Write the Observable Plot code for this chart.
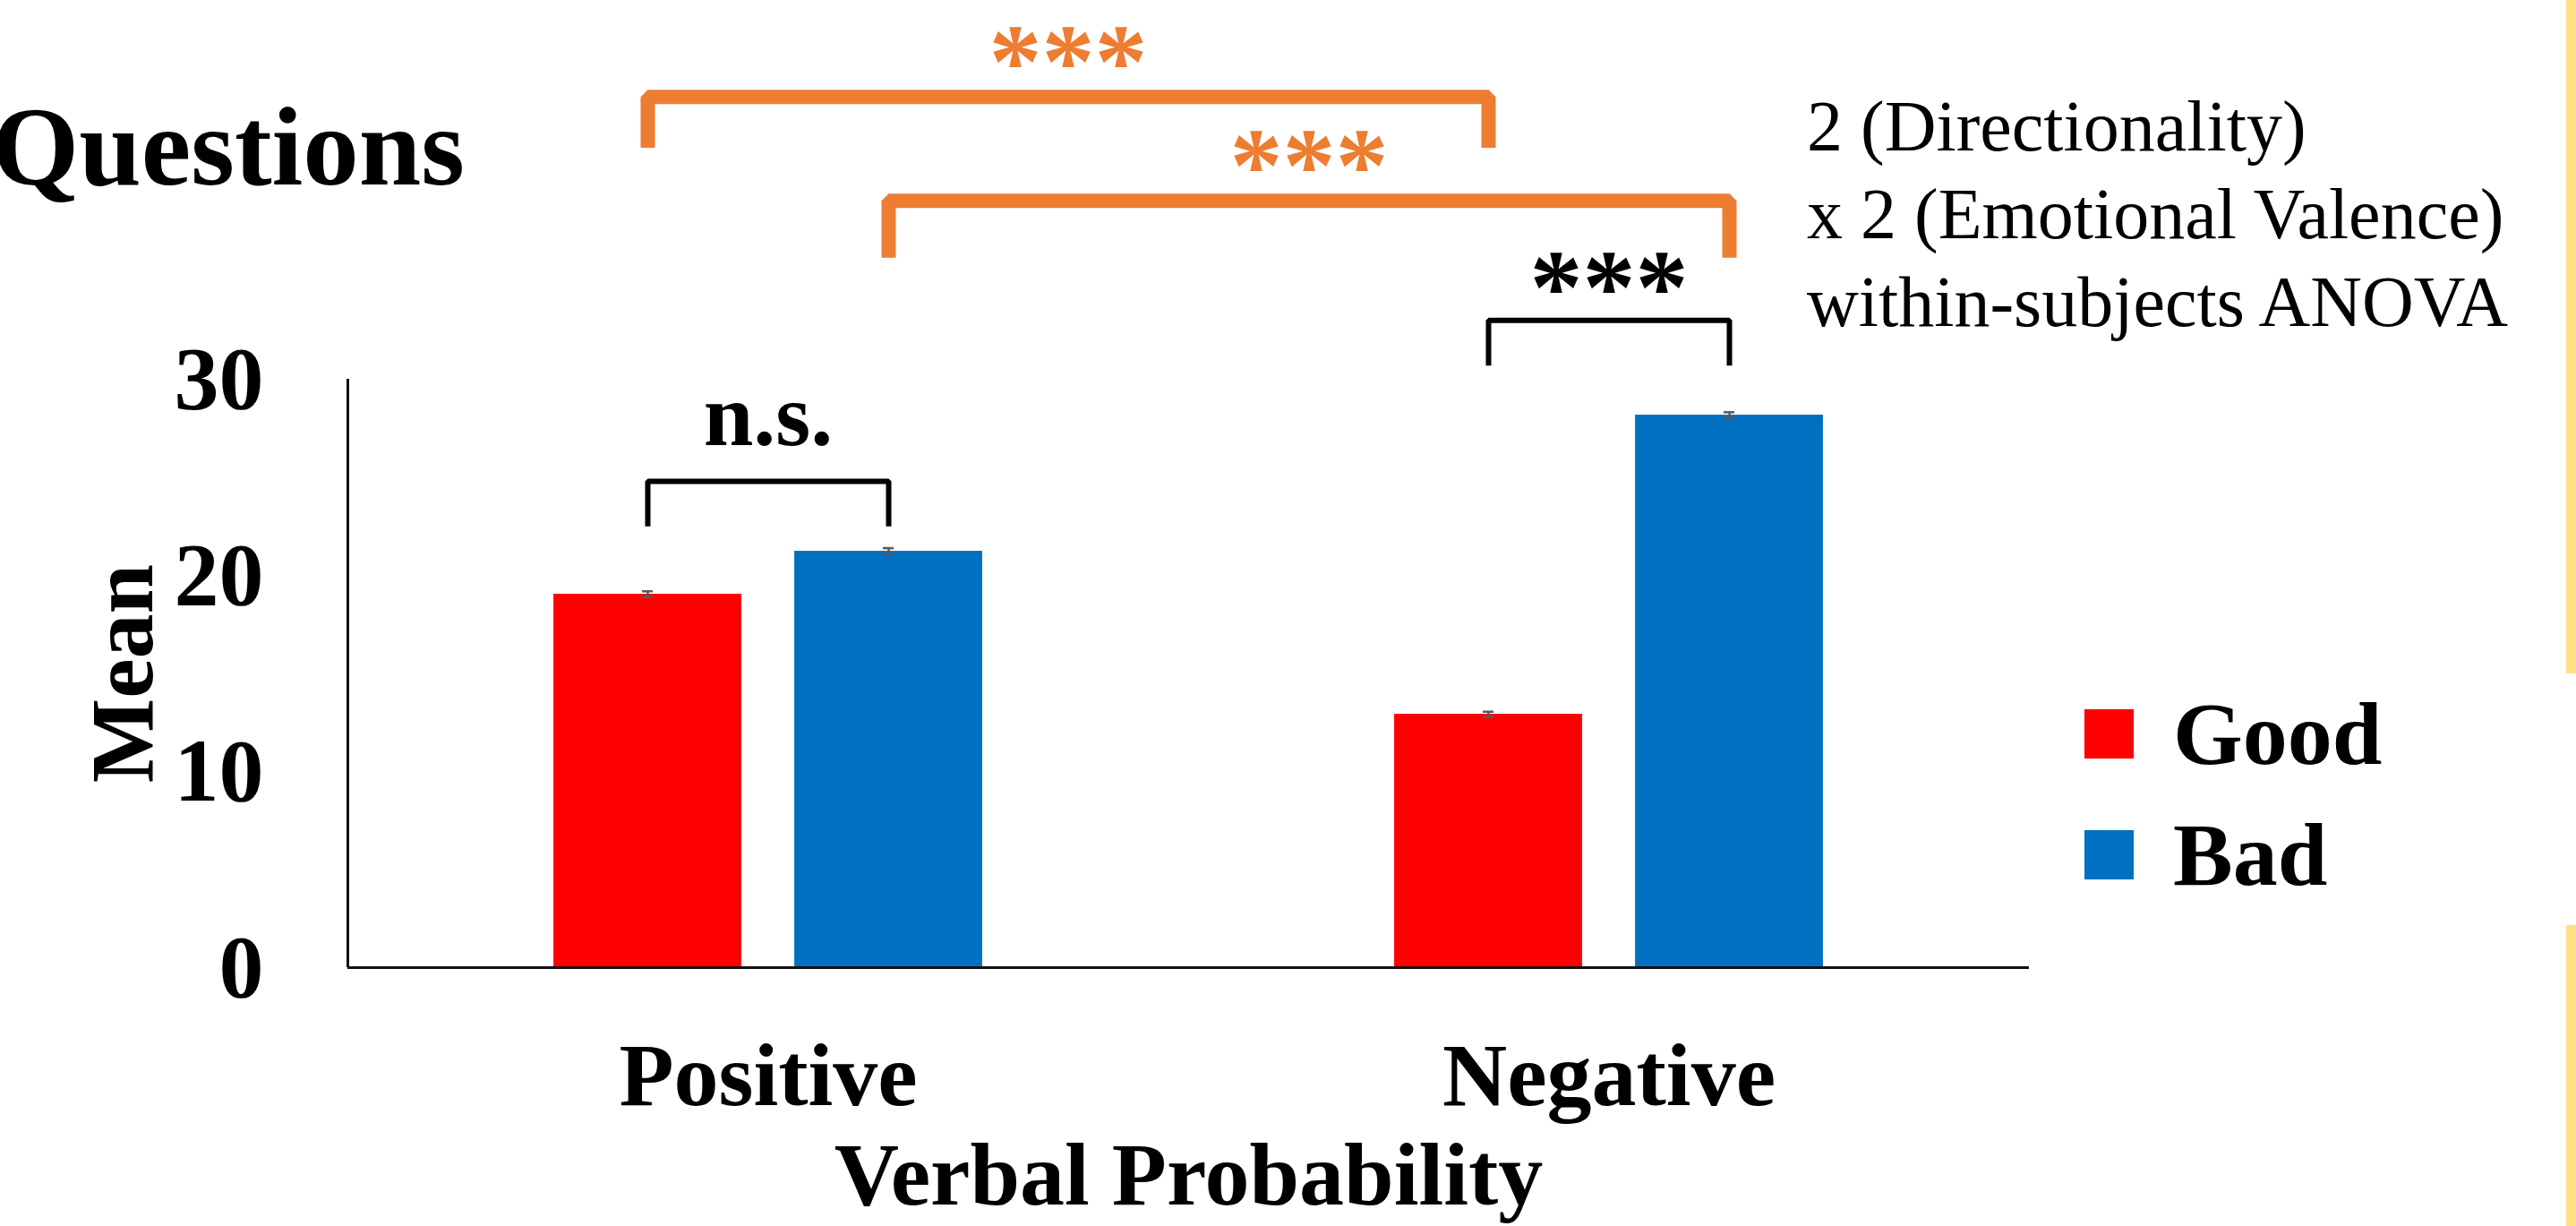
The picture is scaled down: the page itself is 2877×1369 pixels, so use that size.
<!DOCTYPE html>
<html>
<head>
<meta charset="utf-8">
<script src="https://cdn.jsdelivr.net/npm/d3@7"></script>
<script src="https://cdn.jsdelivr.net/npm/@observablehq/plot@0.6"></script>
<style>
  html, body { margin: 0; padding: 0; background: #fff; overflow: hidden; }
  #wrap { position: relative; width: 2877px; height: 1369px; overflow: hidden; font-family: "Liberation Serif", "DejaVu Serif", serif; color: #000; }
  #wrap svg { position: absolute; left: 0; top: 0; }
  .title { position: absolute; right: 2358px; top: 102px; font-size: 125px; font-weight: bold; line-height: 125px; white-space: nowrap; }
  .note { position: absolute; left: 2018px; top: 92px; font-size: 80px; line-height: 98px; white-space: nowrap; }
  .legend { position: absolute; left: 2328px; top: 760px; }
  .legend .item { position: relative; height: 135px; }
  .legend .sw { position: absolute; left: 0; top: 32px; width: 55px; height: 55px; }
  .legend .lab { position: absolute; left: 99px; top: 0; font-size: 100px; font-weight: bold; line-height: 120px; white-space: nowrap; }
  .stripe { position: absolute; left: 2866px; width: 11px; background: #FFE083; }
</style>
</head>
<body>
<div id="wrap"></div>
<script>
// ---- data ----
const directions = ["Positive", "Negative"];          // x categories (Verbal Probability)
const valences = ["Good", "Bad"];                      // series (Emotional Valence)
const goodMeans = [19.04, 12.92];
const badMeans = [21.23, 28.17];
const goodErrors = [0.15, 0.13];
const badErrors = [0.16, 0.15];
const valenceColors = ["#FF0000", "#0070C0"];
const yTicks = [0, 10, 20, 30];
const noteLines = ["2 (Directionality)", "x 2 (Emotional Valence)", "within-subjects ANOVA"];
// significance brackets: [direction, valence] endpoints, bracket level (data units), leg bottom, label level
const brackets = [
  {from: ["Positive", "Good"], to: ["Negative", "Good"], top: 44.4, leg: 41.8, labelY: 46.1, label: "***", kind: "between"},
  {from: ["Positive", "Bad"], to: ["Negative", "Bad"], top: 39.1, leg: 36.2, labelY: 40.8, label: "***", kind: "between"},
  {from: ["Positive", "Good"], to: ["Positive", "Bad"], top: 24.8, leg: 22.5, labelY: 28.1, label: "n.s.", kind: "within"},
  {from: ["Negative", "Good"], to: ["Negative", "Bad"], top: 33.0, leg: 30.7, labelY: 34.6, label: "***", kind: "within"}
];

// ---- layout helpers (group index units on the x scale) ----
const BAR_W = 0.2235, BAR_GAP = 0.063;
function barCenter(dir, val) {
  const i = directions.indexOf(dir), j = valences.indexOf(val);
  return i + 0.5 + (j - 0.5) * (BAR_W + BAR_GAP);
}

const rows = [];
directions.forEach((d, i) => {
  rows.push({direction: d, valence: "Good", mean: goodMeans[i], err: goodErrors[i]});
  rows.push({direction: d, valence: "Bad", mean: badMeans[i], err: badErrors[i]});
});
rows.forEach(r => { r.c = barCenter(r.direction, r.valence); });

const bracketPts = [];
brackets.forEach((b, k) => {
  const x1 = barCenter(...b.from), x2 = barCenter(...b.to);
  bracketPts.push({id: k, kind: b.kind, x: x1, y: b.leg});
  bracketPts.push({id: k, kind: b.kind, x: x1, y: b.top});
  bracketPts.push({id: k, kind: b.kind, x: x2, y: b.top});
  bracketPts.push({id: k, kind: b.kind, x: x2, y: b.leg});
  b.mid = (x1 + x2) / 2;
});

const ORANGE = "#ED7D31";

const chart = Plot.plot({
  width: 2877,
  height: 1369,
  marginLeft: 388,
  marginRight: 611,
  marginTop: 423,
  marginBottom: 289,
  style: {fontFamily: '"Liberation Serif", "DejaVu Serif", serif', fontSize: "100px", fontWeight: "bold", color: "#000", background: "transparent", overflow: "visible"},
  x: {type: "linear", domain: [0, directions.length]},
  y: {domain: [0, 30]},
  color: {domain: valences, range: valenceColors},
  marks: [
    Plot.rect(rows, {x1: d => d.c - BAR_W / 2, x2: d => d.c + BAR_W / 2, y1: 0, y2: "mean", fill: "valence"}),
    Plot.ruleX(rows, {x: "c", y1: d => d.mean - d.err, y2: d => d.mean + d.err, stroke: "#595959", strokeWidth: 2.5}),
    Plot.ruleY(rows, {y: d => d.mean + d.err, x1: "c", x2: "c", insetLeft: -6, insetRight: -6, stroke: "#595959", strokeWidth: 2.5}),
    Plot.ruleY(rows, {y: d => d.mean - d.err, x1: "c", x2: "c", insetLeft: -6, insetRight: -6, stroke: "#595959", strokeWidth: 2.5}),
    Plot.ruleX([0], {stroke: "#111", strokeWidth: 3}),
    Plot.ruleY([0], {stroke: "#111", strokeWidth: 3}),
    Plot.line(bracketPts.filter(p => p.kind === "between"), {x: "x", y: "y", z: "id", stroke: ORANGE, strokeWidth: 16, strokeLinejoin: "miter", strokeLinecap: "butt"}),
    Plot.line(bracketPts.filter(p => p.kind === "within"), {x: "x", y: "y", z: "id", stroke: "#000", strokeWidth: 6, strokeLinejoin: "miter", strokeLinecap: "butt"}),
    Plot.text(brackets, {x: "mid", y: "labelY", text: "label", fill: d => d.kind === "between" ? ORANGE : "#000", fontSize: d => d.label === "***" ? 118 : 100, fontWeight: "bold", lineAnchor: "middle"}),
    Plot.axisY({ticks: yTicks, tickSize: 0, tickPadding: 94, label: "Mean", labelAnchor: "center", labelOffset: 290, labelArrow: "none"}),
    Plot.axisX({ticks: directions.map((d, i) => i + 0.5), tickFormat: v => directions[Math.floor(v)], tickSize: 0, tickPadding: 82, label: "Verbal Probability", labelAnchor: "center", labelOffset: 264, labelArrow: "none"})
  ]
});

const wrap = document.getElementById("wrap");
wrap.appendChild(chart);

const title = document.createElement("div");
title.className = "title";
title.textContent = "Questions";
wrap.appendChild(title);

const note = document.createElement("div");
note.className = "note";
note.innerHTML = noteLines.map(s => `<div>${s}</div>`).join("");
wrap.appendChild(note);

const legend = document.createElement("div");
legend.className = "legend";
legend.innerHTML = valences.map((v, i) => `<div class="item"><div class="sw" style="background:${valenceColors[i]}"></div><div class="lab">${v}</div></div>`).join("");
wrap.appendChild(legend);

[[0, 752], [1033, 336]].forEach(([t, h]) => {
  const s = document.createElement("div");
  s.className = "stripe";
  s.style.top = t + "px";
  s.style.height = h + "px";
  wrap.appendChild(s);
});
</script>
</body>
</html>
